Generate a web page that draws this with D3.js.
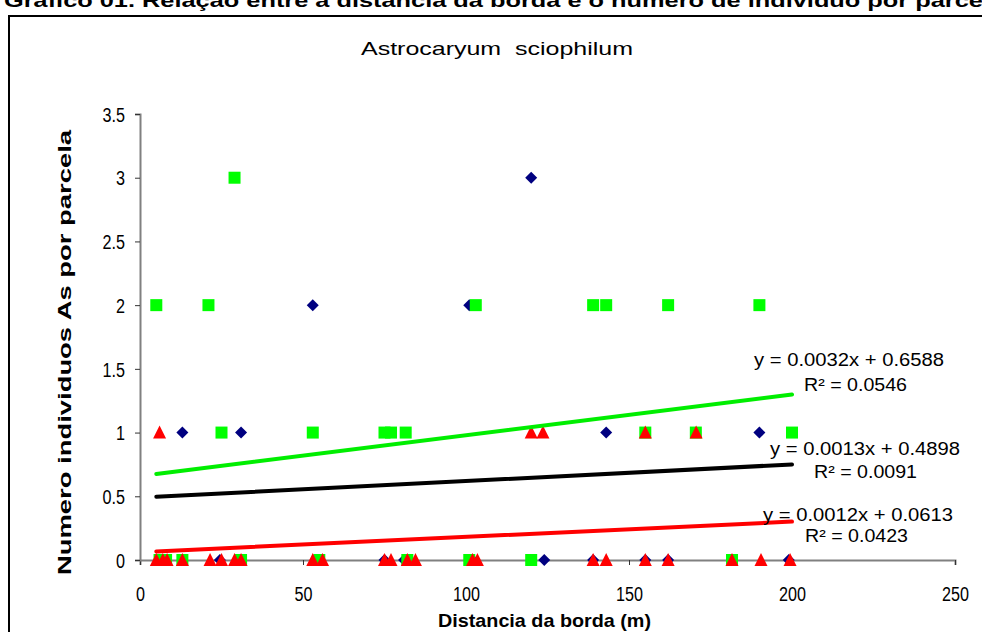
<!DOCTYPE html>
<html><head><meta charset="utf-8">
<script src="https://cdn.jsdelivr.net/npm/d3@7"></script>
<style>
html,body{margin:0;padding:0;background:#fff;overflow:hidden}
text{font-family:"Liberation Sans",Arial,sans-serif;white-space:pre}
</style></head>
<body><svg id="c" width="982" height="632"></svg>
<script>
const pageTitle = "Gráfico 01. Relação entre a distância da borda e o número de indivíduo por parcela";
const chartTitle = "Astrocaryum  sciophilum";
const xLabel = "Distancia da borda (m)";
const yLabel = "Numero individuos As por parcela";
const xTicks = [0, 50, 100, 150, 200, 250];
const yTicks = [0, 0.5, 1, 1.5, 2, 2.5, 3, 3.5];

// blue diamonds series
const blueX = [120, 53, 101, 13, 31, 143, 190, 6, 24.5, 30, 75, 81, 102, 124, 139, 155, 162, 199];
const blueY = [3, 2, 2, 1, 1, 1, 1, 0, 0, 0, 0, 0, 0, 0, 0, 0, 0, 0];
// green squares series
const greenX = [29, 5, 21, 103, 139, 143, 162, 190, 25, 53, 75, 77, 81.5, 155, 170.5, 200, 6, 8, 13, 31, 55, 82, 101, 120, 181.6];
const greenY = [3, 2, 2, 2, 2, 2, 2, 2, 1, 1, 1, 1, 1, 1, 1, 1, 0, 0, 0, 0, 0, 0, 0, 0, 0];
// red triangles series
const redX = [6, 120, 123.6, 155, 170.6, 5, 7, 8.3, 13, 21.5, 25, 29, 31, 53, 56, 75, 77, 82, 84.5, 102, 103.5, 139, 143, 155, 162, 181.6, 190.5, 199.4];
const redY = [1, 1, 1, 1, 1, 0, 0, 0, 0, 0, 0, 0, 0, 0, 0, 0, 0, 0, 0, 0, 0, 0, 0, 0, 0, 0, 0, 0];

// linear trendlines (slope, intercept, R²)
const trendNames = ["green", "blue", "red"];
const trendSlope = [0.0032, 0.0013, 0.0012];
const trendIntercept = [0.6588, 0.4898, 0.0613];
const trendR2 = ["0.0546", "0.0091", "0.0423"];

const svg = d3.select("#c");
const x = d3.scaleLinear().domain([0, 250]).range([140, 955]);
const y = d3.scaleLinear().domain([0, 3.5]).range([560, 114]);

// page caption (cut at top)
svg.append("text").attr("x", 4).attr("y", 7).attr("font-size", 19).attr("font-weight", "bold")
  .attr("textLength", 1000).attr("lengthAdjust", "spacingAndGlyphs").text(pageTitle);
// frame
svg.append("rect").attr("x", 9).attr("y", 16).attr("width", 990).attr("height", 640)
  .attr("fill", "none").attr("stroke", "#000").attr("stroke-width", 2);

svg.append("text").attr("x", 361).attr("y", 55)
  .attr("font-size", 19).attr("textLength", 272).attr("lengthAdjust", "spacingAndGlyphs").text(chartTitle);

// axes
const gx = svg.append("g").attr("transform", "translate(0,560)")
  .call(d3.axisBottom(x).tickValues(xTicks).tickSize(5).tickFormat(d3.format("d")));
const gy = svg.append("g").attr("transform", "translate(140,0)")
  .call(d3.axisLeft(y).tickValues(yTicks).tickSize(5).tickFormat(d => d));
[gx, gy].forEach(g => {
  g.select(".domain").attr("stroke", "#808080").attr("stroke-width", 2);
  g.selectAll(".tick line").attr("stroke", "#333").attr("stroke-width", 1);
  g.selectAll(".tick text").attr("font-family", "'Liberation Sans',Arial,sans-serif")
    .attr("font-size", 17).attr("fill", "#000")
    .each(function() {
      const w = this.getComputedTextLength();
      d3.select(this).attr("font-size", 20).attr("textLength", w * 0.95).attr("lengthAdjust", "spacingAndGlyphs");
    });
});
gx.selectAll(".tick text").attr("y", 0).attr("dy", 41);
gy.selectAll(".tick text").attr("x", -15).attr("dy", "0.36em");

svg.append("text").attr("x", 438).attr("y", 627)
  .attr("font-size", 19).attr("font-weight", "bold")
  .attr("textLength", 213).attr("lengthAdjust", "spacingAndGlyphs").text(xLabel);
svg.append("text").attr("transform", "translate(71,575) rotate(-90)")
  .attr("font-size", 19).attr("font-weight", "bold")
  .attr("textLength", 445).attr("lengthAdjust", "spacingAndGlyphs").text(yLabel);

// points
const toPts = (xs, ys) => xs.map((v, i) => ({x: v, y: ys[i]}));
svg.append("g").selectAll("path").data(toPts(blueX, blueY)).join("path")
  .attr("transform", d => `translate(${x(d.x)},${y(d.y)}) rotate(45)`)
  .attr("d", d3.symbol(d3.symbolSquare, 72)).attr("fill", "#000080");
svg.append("g").selectAll("rect").data(toPts(greenX, greenY)).join("rect")
  .attr("x", d => x(d.x) - 6).attr("y", d => y(d.y) - 6).attr("width", 12).attr("height", 12).attr("fill", "#00ff00");
svg.append("g").selectAll("path").data(toPts(redX, redY)).join("path")
  .attr("d", d => { const cx = x(d.x), cy = y(d.y); return `M${cx},${cy-7}L${cx+6.5},${cy+6}L${cx-6.5},${cy+6}Z`; })
  .attr("fill", "#ff0000");

// trendlines
const trendColor = ["#00ee00", "#000000", "#ff0000"];
trendNames.forEach((n, i) => {
  const [a, b] = [5, 200];
  svg.append("line").attr("x1", x(a)).attr("x2", x(b))
    .attr("y1", y(trendSlope[i] * a + trendIntercept[i])).attr("y2", y(trendSlope[i] * b + trendIntercept[i]))
    .attr("stroke", trendColor[i]).attr("stroke-width", 4).attr("stroke-linecap", "round");
});

// equation labels
const eqPos = [[754, 366, 804, 391], [770, 455, 814, 478], [763, 521, 805, 542]];
trendNames.forEach((n, i) => {
  const p = eqPos[i];
  svg.append("text").attr("x", p[0]).attr("y", p[1]).attr("font-size", 18)
    .attr("textLength", 190).attr("lengthAdjust", "spacingAndGlyphs")
    .text(`y = ${trendSlope[i].toFixed(4)}x + ${trendIntercept[i].toFixed(4)}`);
  svg.append("text").attr("x", p[2]).attr("y", p[3]).attr("font-size", 18)
    .attr("textLength", 103).attr("lengthAdjust", "spacingAndGlyphs")
    .text(`R² = ${trendR2[i]}`);
});
</script></body></html>
